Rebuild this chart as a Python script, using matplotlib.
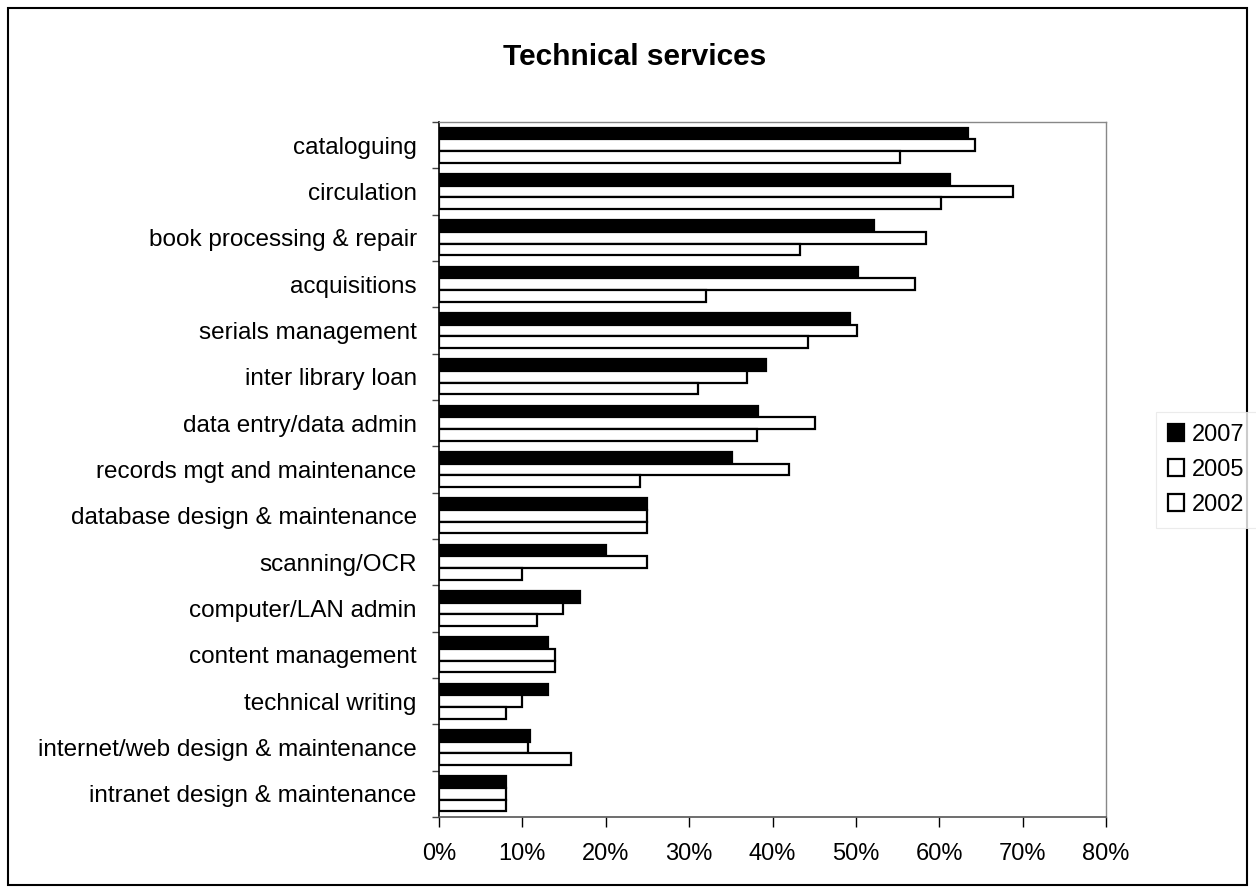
import matplotlib
matplotlib.use("Agg")
import matplotlib.pyplot as plt
import numpy as np
from matplotlib.patches import Rectangle

plt.rcParams['font.family'] = ['Liberation Sans', 'DejaVu Sans']

categories = ["cataloguing", "circulation", "book processing & repair", "acquisitions",
              "serials management", "inter library loan", "data entry/data admin",
              "records mgt and maintenance", "database design & maintenance",
              "scanning/OCR", "computer/LAN admin", "content management",
              "technical writing", "internet/web design & maintenance",
              "intranet design & maintenance"]
v2007 = [63.4, 61.3, 52.2, 50.2, 49.3, 39.2, 38.3, 35.1, 25.0, 20.0, 16.9, 13.1, 13.1, 10.9, 8.0]
v2005 = [64.3, 68.9, 58.4, 57.1, 50.1, 37.0, 45.1, 42.0, 25.0, 25.0, 14.9, 13.9, 9.9, 10.7, 8.0]
v2002 = [55.3, 60.2, 43.3, 32.0, 44.2, 31.1, 38.2, 24.1, 25.0, 9.9, 11.8, 13.9, 8.0, 15.8, 8.0]
series = ["2007", "2005", "2002"]
xticks = [0, 10, 20, 30, 40, 50, 60, 70, 80]

W, H = 1256, 892
fig = plt.figure(figsize=(W/100, H/100), dpi=100)
ax = fig.add_axes([439/W, 1-817/H, (1106-439)/W, (817-122)/H])

n = len(categories)
y = np.arange(n)
bh = 0.25
ax.barh(y - bh, v2007, height=bh, color='black', edgecolor='black', linewidth=1.6, label=series[0])
ax.barh(y, v2005, height=bh, color='white', edgecolor='black', linewidth=1.6, label=series[1])
ax.barh(y + bh, v2002, height=bh, color='white', edgecolor='black', linewidth=1.6, label=series[2])

ax.set_ylim(n - 0.5, -0.5)
ax.set_xlim(0, 80)
ax.set_xticks(xticks)
ax.set_xticklabels([f"{t}%" for t in xticks], fontsize=17)
ax.set_yticks(y)
ax.set_yticklabels(categories, fontsize=17.5)
ax.tick_params(axis='y', length=0, pad=16)
ax.set_yticks(np.arange(n + 1) - 0.5, minor=True)
ax.tick_params(axis='y', which='minor', length=5, width=1, color='#444444', direction='out')
ax.tick_params(axis='x', length=7, width=1, direction='out', pad=12)

for s in ['top', 'right']:
    ax.spines[s].set_color('#888888')
    ax.spines[s].set_linewidth(1)
    ax.spines[s].set_linestyle((0, (1, 1)))
ax.spines['left'].set_color('black')
ax.spines['left'].set_linewidth(1.2)
ax.spines['bottom'].set_color('#555555')
ax.spines['bottom'].set_linewidth(1.2)

fig.text(635/W, 1-65/H, "Technical services", fontsize=21.5, fontweight='bold',
         ha='center', va='baseline')

leg = fig.legend(loc='center left', bbox_to_anchor=(1156/W, 1-470/H), fontsize=17,
                 frameon=True, handlelength=0.7, handleheight=0.7, handletextpad=0.34,
                 labelspacing=0.55, borderpad=0.5, borderaxespad=0, fancybox=False)
leg.get_frame().set_edgecolor('#e6e6e6')
leg.get_frame().set_linewidth(0.8)

fig.patches.append(Rectangle((8/W, 7/H), 1239/W, 877/H, transform=fig.transFigure,
                             fill=False, edgecolor='black', linewidth=1.5))

fig.savefig("out.png", dpi=100)
